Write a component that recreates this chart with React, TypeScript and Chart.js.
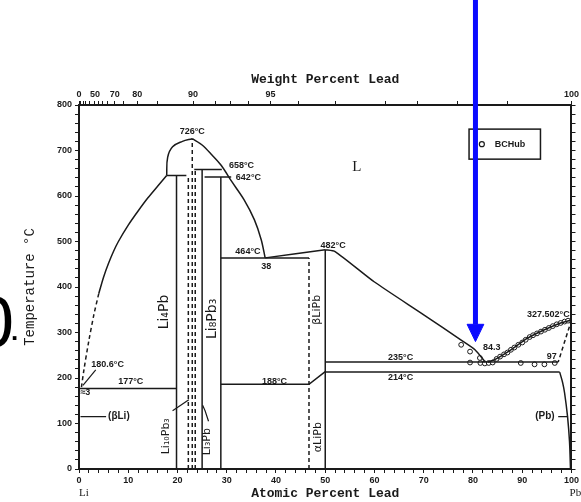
import { useEffect, useRef } from 'react';
import { Chart, registerables } from 'chart.js';
Chart.register(...registerables);

type P = [number, number];

// ---- data (x = atomic % Pb, y = °C) ----
const liqLeftDashed: P[] = [[0.5, 180], [1, 218], [2, 282], [3, 338], [4, 385]];
const liqLeftSolid: P[] = [[4, 385], [5, 422], [6, 452], [7, 478], [8, 500], [10, 536], [12, 567], [14, 596], [16, 622], [17.8, 645]];
const domeLeft: P[] = [[17.8, 645], [18, 685], [19, 708], [21, 720], [23, 726]];
const domeRight: P[] = [[23, 726], [25, 712], [27, 690], [28.9, 667], [31, 632], [33.5, 592], [35.6, 548], [37, 504], [37.8, 464]];
const liqMid: P[] = [[37.8, 464], [44, 473], [50, 482]];
const liqDown: P[] = [[50, 482], [52, 478], [60, 411], [70, 339], [77.6, 283], [80.4, 262], [82.5, 235]];
const liqPb: P[] = [[83, 235], [84.5, 241], [87.7, 262], [91, 287], [94.5, 306], [97.8, 321], [100, 327.5]];
const solidusPb: P[] = [[100, 327.5], [97.3, 235]];
const solvusPb: P[] = [[97.6, 213], [98.2, 190], [98.6, 167], [99.2, 115], [99.6, 60], [99.8, 0]];

const h177: P[] = [[0, 177], [19.8, 177]];
const h645: P[] = [[17.8, 645], [21.8, 645]];
const h658: P[] = [[23.4, 658], [29, 658]];
const h642: P[] = [[25.5, 642], [30.9, 642]];
const h464: P[] = [[28.8, 464], [46.7, 464]];
const h188: P[] = [[28.8, 186], [46.7, 186], [50, 214]];
const h235: P[] = [[50, 235], [97.3, 235]];
const h214: P[] = [[50, 213], [97.6, 213]];

const vSolid: P[][] = [
  [[19.8, 0], [19.8, 645]],
  [[25, 0], [25, 658]],
  [[28.8, 0], [28.8, 642]],
  [[50, 0], [50, 482]],
];
const vDashed: P[][] = [
  [[22.2, 0], [22.2, 645]],
  [[23, 0], [23, 726]],
  [[23.6, 0], [23.6, 658]],
  [[46.7, 0], [46.7, 464]],
];
const callouts: P[][] = [
  [[3.4, 218], [0.8, 184]],
  [[5.5, 115], [0.3, 115]],
  [[97.3, 115], [99.3, 115]],
  [[19, 128], [22.3, 152]],
  [[26.3, 105], [25.6, 128], [25.1, 140]],
];

const measured: P[] = [
  [77.6, 273], [79.4, 258], [81.4, 244], [79.4, 234], [81.5, 233], [82.4, 232], [83.2, 233], [84, 234],
  [89.7, 233], [92.5, 230], [94.5, 230], [96.6, 233],
  [84.8, 242], [85.5, 247], [86.3, 252], [87, 256], [87.7, 262], [88.4, 267], [89.2, 273], [90, 278],
  [90.7, 284], [91.5, 290], [92.2, 294], [93, 298], [93.8, 302], [94.6, 306], [95.4, 310], [96.2, 314],
  [97, 318], [97.8, 321], [98.6, 324], [99.3, 326],
];

const arrowShaft: P[] = [[80.5, 1040], [80.5, 318]];
const arrowHead: P[] = [[78.8, 318], [82.2, 318], [80.5, 280], [78.8, 318]];

const xTickLabels = [0, 10, 20, 30, 40, 50, 60, 70, 80, 90, 100];
const yTickLabels = [0, 100, 200, 300, 400, 500, 600, 700, 800];
const wtLabels = [0, 50, 70, 80, 90, 95, 100];
const wtMinor: number[] = [10, 20, 30, 40, 55, 60, 65, 75, 85, 92, 93, 94, 96, 97, 98, 98.5, 99, 99.5];

const legendName = 'BCHub';

type Lbl = { x: number; y: number; t: string; rot?: boolean; size?: number; fam?: string };
const labels: Lbl[] = [
  { x: 23, y: 741, t: '726°C' },
  { x: 33, y: 666, t: '658°C' },
  { x: 34.4, y: 640, t: '642°C' },
  { x: 34.3, y: 478, t: '464°C' },
  { x: 38, y: 446, t: '38' },
  { x: 51.6, y: 491, t: '482°C' },
  { x: 5.8, y: 229, t: '180.6°C' },
  { x: 10.5, y: 193, t: '177°C' },
  { x: 1.3, y: 168, t: '≈3' },
  { x: 8.1, y: 115, t: '(βLi)', size: 10 },
  { x: 39.7, y: 193, t: '188°C' },
  { x: 65.3, y: 245, t: '235°C' },
  { x: 65.3, y: 201, t: '214°C' },
  { x: 83.8, y: 266, t: '84.3' },
  { x: 95.3, y: 340, t: '327.502°C' },
  { x: 96, y: 247, t: '97' },
  { x: 94.6, y: 115, t: '(Pb)', size: 10 },
  { x: 56.4, y: 663, t: 'L', size: 15, fam: '"Liberation Serif", serif' },
  { x: 17.3, y: 345, t: 'Li₄Pb', rot: true, size: 14 },
  { x: 27, y: 330, t: 'Li₈Pb₃', rot: true, size: 14 },
  { x: 17.6, y: 72, t: 'Li₁₀Pb₃', rot: true, size: 11 },
  { x: 26.1, y: 60, t: 'Li₃Pb', rot: true, size: 11 },
  { x: 48.4, y: 350, t: 'βLiPb', rot: true, size: 11 },
  { x: 48.6, y: 70, t: 'αLiPb', rot: true, size: 11 },
  { x: 1, y: -52, t: 'Li', size: 11, fam: '"Liberation Serif", serif' },
  { x: 100.8, y: -52, t: 'Pb', size: 11, fam: '"Liberation Serif", serif' },
];

// weight % Pb -> atomic % Pb
const toAt = (w: number) => {
  const a = w / 207.2;
  const b = (100 - w) / 6.941;
  return a + b === 0 ? 0 : (a / (a + b)) * 100;
};

const toXY = (a: P[]) => a.map(([x, y]) => ({ x, y }));

export default function App() {
  const ref = useRef<HTMLCanvasElement>(null);
  useEffect(() => {
    if (!ref.current) return;
    const ink = '#1a1a1a';
    const line = (pts: P[], o: any = {}) => ({
      data: toXY(pts),
      showLine: true,
      pointRadius: 0,
      borderColor: o.color || ink,
      borderWidth: o.width || 1.5,
      borderDash: o.dash || [],
      tension: o.tension || 0,
      fill: false,
    });
    const datasets: any[] = [
      line(liqLeftDashed, { dash: [4, 3], tension: 0.3 }),
      line(liqLeftSolid, { tension: 0.3 }),
      line(domeLeft, { tension: 0.4 }),
      line(domeRight, { tension: 0.3 }),
      line(liqMid),
      line(liqDown, { tension: 0.2 }),
      line(liqPb, { tension: 0.2 }),
      line(solidusPb, { dash: [4, 3] }),
      line(solvusPb, { tension: 0.3 }),
      line(h177), line(h645), line(h658), line(h642), line(h464), line(h188), line(h235), line(h214),
      ...vSolid.map((v) => line(v)),
      ...vDashed.map((v) => line(v, { dash: [4, 3] })),
      ...callouts.map((v) => line(v, { width: 1.2 })),
      {
        data: toXY(measured),
        showLine: false,
        pointRadius: 2.4,
        pointStyle: 'circle',
        pointBorderWidth: 1,
        borderColor: ink,
        backgroundColor: '#fff',
      },
      { ...line(arrowShaft, { color: '#0a0aff', width: 5 }), clip: false },
      {
        ...line(arrowHead, { color: '#0a0aff', width: 1 }),
        fill: 'shape',
        backgroundColor: '#0a0aff',
        clip: false,
      },
    ];

    const topTicks = [
      ...wtLabels.map((w) => ({ v: toAt(w), l: String(w) })),
      ...wtMinor.map((w) => ({ v: toAt(w), l: '' })),
    ].sort((a, b) => a.v - b.v);

    const tickFont = { family: '"Liberation Sans", Arial', size: 9, weight: 'bold' as const };
    const titleFont = { family: '"Liberation Mono", monospace', size: 13, weight: 'bold' as const };

    const annot = {
      id: 'annot',
      beforeDatasetsDraw(chart: any) {
        const { ctx, scales } = chart;
        const xs = scales.x, ys = scales.y;
        const x1 = xs.getPixelForValue(79.2), x2 = xs.getPixelForValue(93.7);
        const y1 = ys.getPixelForValue(747), y2 = ys.getPixelForValue(681);
        ctx.save();
        ctx.strokeStyle = ink;
        ctx.lineWidth = 1.5;
        ctx.strokeRect(x1, y1, x2 - x1, y2 - y1);
        ctx.beginPath();
        ctx.arc(xs.getPixelForValue(81.8), ys.getPixelForValue(714), 2.5, 0, Math.PI * 2);
        ctx.lineWidth = 1.2;
        ctx.stroke();
        ctx.fillStyle = ink;
        ctx.font = 'bold 9px "Liberation Sans", Arial';
        ctx.textBaseline = 'middle';
        ctx.fillText(legendName, xs.getPixelForValue(84.4), ys.getPixelForValue(714));
        ctx.restore();
      },
      afterDatasetsDraw(chart: any) {
        const { ctx, scales } = chart;
        ctx.save();
        ctx.fillStyle = ink;
        ctx.textAlign = 'center';
        ctx.textBaseline = 'middle';
        for (const l of labels) {
          const px = scales.x.getPixelForValue(l.x);
          const py = scales.y.getPixelForValue(l.y);
          const fam = l.fam || (l.rot ? '"DejaVu Sans", sans-serif' : '"Liberation Sans Narrow", "Liberation Sans", Arial');
          const weight = l.rot || l.fam ? 'normal' : 'bold';
          ctx.font = `${weight} ${l.size || 9}px ${fam}`;
          if (l.rot) {
            ctx.save();
            ctx.translate(px, py);
            ctx.rotate(-Math.PI / 2);
            ctx.fillText(l.t, 0, 0);
            ctx.restore();
          } else {
            ctx.fillText(l.t, px, py);
          }
        }
        ctx.restore();
      },
    };

    const chart = new Chart(ref.current, {
      type: 'scatter',
      data: { datasets },
      plugins: [annot],
      options: {
        animation: false,
        responsive: false,
        devicePixelRatio: 1,
        layout: { padding: 0 },
        plugins: { legend: { display: false }, tooltip: { enabled: false } },
        scales: {
          x: {
            type: 'linear', position: 'bottom', min: 0, max: 100,
            ticks: {
              stepSize: 2, autoSkip: false, maxRotation: 0, padding: 2, color: ink, font: tickFont,
              callback: (v: any) => (xTickLabels.includes(v) ? String(v) : ''),
            },
            grid: { drawOnChartArea: false, tickLength: 4, color: ink, tickWidth: 1 },
            border: { color: ink, width: 2 },
            title: { display: true, text: 'Atomic Percent Lead', color: ink, font: titleFont, padding: { top: 0, bottom: 0 } },
            afterFit: (s: any) => { s.height = 33; },
          },
          x2: {
            type: 'linear', position: 'top', min: 0, max: 100,
            afterBuildTicks: (s: any) => { s.ticks = topTicks.map((t) => ({ value: t.v })); },
            ticks: {
              autoSkip: false, maxRotation: 0, padding: 1, color: ink, font: tickFont,
              callback: (_v: any, i: number) => topTicks[i] ? topTicks[i].l : '',
            },
            grid: { drawOnChartArea: false, tickLength: 4, color: ink },
            border: { color: ink, width: 2 },
            title: { display: true, text: 'Weight Percent Lead', color: ink, font: titleFont, padding: { top: 72, bottom: 0 } },
            afterFit: (s: any) => { s.height = 105; },
          },
          y: {
            type: 'linear', position: 'left', min: 0, max: 800,
            ticks: {
              stepSize: 20, autoSkip: false, padding: 3, color: ink, font: tickFont,
              callback: (v: any) => (yTickLabels.includes(v) ? String(v) : ''),
            },
            grid: { drawOnChartArea: false, tickLength: 4, color: ink },
            border: { color: ink, width: 2 },
            title: {
              display: true, text: 'Temperature °C', color: ink,
              font: { family: '"Liberation Mono", monospace', size: 14 }, padding: { top: 22, bottom: 0 },
            },
            afterFit: (s: any) => { s.width = 79; },
          },
          y2: {
            type: 'linear', position: 'right', min: 0, max: 800,
            ticks: { stepSize: 20, display: false },
            grid: { drawOnChartArea: false, tickLength: 4, color: ink },
            border: { color: ink, width: 2 },
            afterFit: (s: any) => { s.width = 7; },
          },
        },
      } as any,
    });
    return () => chart.destroy();
  }, []);

  return (
    <div>
      <canvas ref={ref} width={581} height={502} style={{ position: 'fixed', left: 0, top: 0 }} />
      <div style={{ position: 'fixed', left: -26, top: 286, fontFamily: '"Liberation Sans", Arial', fontSize: 72, lineHeight: 1, color: '#000' }}>0</div>
      <div style={{ position: 'fixed', left: 11, top: 318, fontFamily: '"Liberation Sans", Arial', fontSize: 26, lineHeight: 1, fontWeight: 'bold', color: '#000' }}>.</div>
    </div>
  );
}
